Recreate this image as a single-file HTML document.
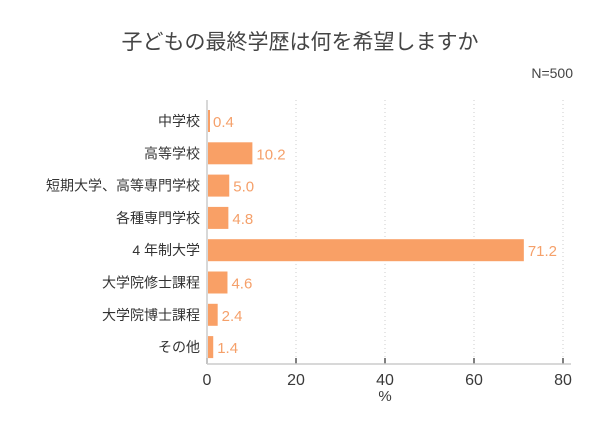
<!DOCTYPE html>
<html><head><meta charset="utf-8"><style>
body{margin:0;background:#fff;}
svg{display:block;font-family:"Liberation Sans","Noto Sans CJK JP",sans-serif;}
</style></head><body>
<svg id="c" width="600" height="439">
<text x="300" y="49" text-anchor="middle" font-size="21" fill="#444">子どもの最終学歴は何を希望しますか</text>
<text x="573" y="78" text-anchor="end" font-size="14" fill="#444">N=500</text>
</svg>
<script>
const categories=["中学校","高等学校","短期大学、高等専門学校","各種専門学校","4 年制大学","大学院修士課程","大学院博士課程","その他"];
const values=[0.4,10.2,5.0,4.8,71.2,4.6,2.4,1.4];
const valueLabels=["0.4","10.2","5.0","4.8","71.2","4.6","2.4","1.4"];
const ticks=[0,20,40,60,80];
const svg=document.getElementById('c');
const NS='http://www.w3.org/2000/svg';
const x0=207,x1=563,plotTop=100,plotBottom=364,firstY=121,step=32.3,bh=22;
const xs=v=>x0+(v/80)*(x1-x0);
const ys=i=>firstY+i*step;
function mk(t,a){const e=document.createElementNS(NS,t);for(const k in a)e.setAttribute(k,a[k]);svg.appendChild(e);return e;}
ticks.forEach(t=>{
  if(t>0){const g=mk('line',{x1:xs(t),x2:xs(t),y1:plotTop,y2:plotBottom,stroke:'#ccc','stroke-dasharray':'1,3'});
  
  }
  const tk=mk('line',{x1:xs(t),x2:xs(t),y1:plotBottom-6,y2:plotBottom,stroke:'#555','stroke-width':1.5});
  
  
  const l=mk('text',{x:xs(t),y:plotBottom+21,'text-anchor':'middle','font-size':16,fill:'#3a3a3a'});
  l.textContent=t;
  
  
});
const ax=mk('line',{x1:x0,x2:x1+8,y1:plotBottom,y2:plotBottom,stroke:'#ccc','stroke-width':1.5});


const ay=mk('line',{x1:x0,x2:x0,y1:plotTop,y2:plotBottom,stroke:'#ccc','stroke-width':1.5});


const xt=mk('text',{x:xs(40),y:plotBottom+37,'text-anchor':'middle','font-size':15,fill:'#3a3a3a'});
xt.textContent='%';


categories.forEach((c,i)=>{
  const y=ys(i);
  const b=mk('rect',{x:x0+1,y:y-bh/2,width:Math.max(xs(values[i])-x0-1,2),height:bh,fill:'#f9a066'});
  
  
  const cl=mk('text',{x:x0-7,y:y+5,'text-anchor':'end','font-size':14,fill:'#333'});
  cl.textContent=c;
  
  
  const vl=mk('text',{x:Math.max(xs(values[i]),x0+2)+4,y:y+6,'font-size':15,fill:'#f5a06a'});
  vl.textContent=valueLabels[i];
  
  
});
</script>
</body></html>
